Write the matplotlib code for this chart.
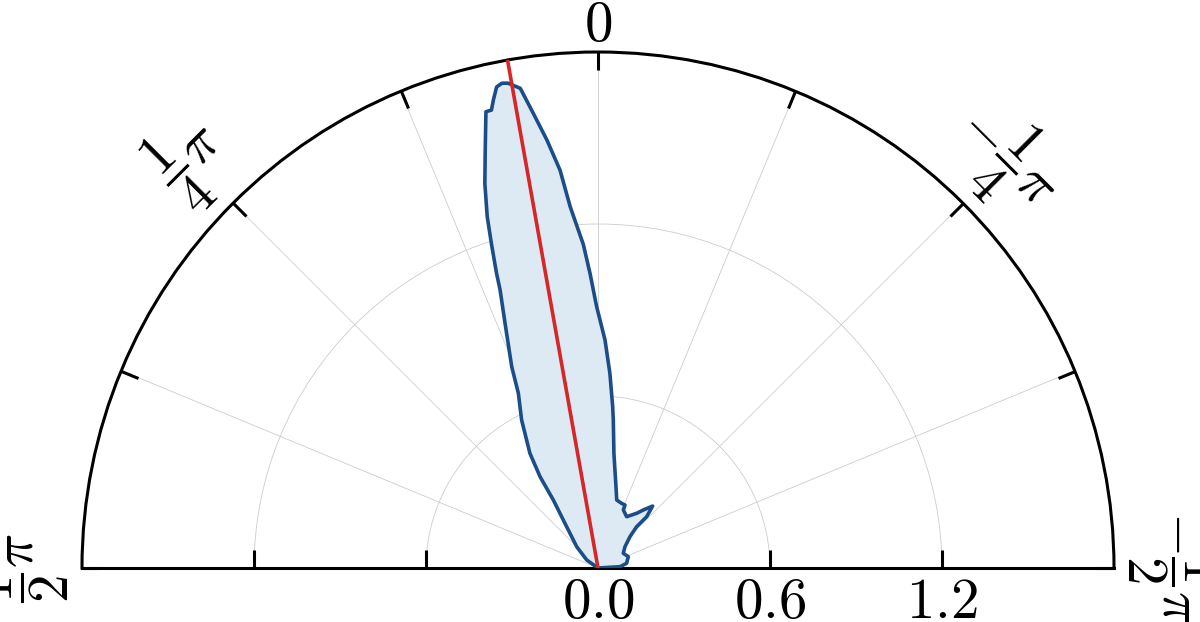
import matplotlib
matplotlib.use("Agg")
import matplotlib.pyplot as plt
import numpy as np

# Outline of the distribution (angle in degrees, radius)
theta_deg = [-90.0, -86.6, -80.7, -69.5, -59.8, -51.7, -45.6, -43.1, -43.5, -41.4,
             -38.0, -35.3, -29.2, -23.6, -23.2, -20.1, -15.4, -12.5, -9.8, -7.9,
             -5.9, -5.2, -3.5, -1.76, 0.3, 1.55, 2.6, 4.4, 5.45, 6.8,
             8.1, 9.2, 10.5, 11.2, 11.9, 12.6, 13.1, 13.8, 15.1, 16.4,
             17.5, 18.2, 19.0, 19.4, 20.8, 23.2, 24.5, 27.3, 30.7, 32.4,
             33.3, 37.2, 45.0, 54.7, 90.0]
radius = [0.0, 0.077, 0.101, 0.113, 0.102, 0.120, 0.156, 0.197, 0.247, 0.288,
          0.257, 0.234, 0.205, 0.221, 0.239, 0.240, 0.246, 0.290, 0.347, 0.404,
          0.519, 0.565, 0.680, 0.796, 0.912, 1.028, 1.130, 1.264, 1.394, 1.503,
          1.602, 1.695, 1.720, 1.724, 1.715, 1.673, 1.640, 1.639, 1.510, 1.398,
          1.285, 1.190, 1.087, 1.028, 0.913, 0.764, 0.670, 0.581, 0.465, 0.377,
          0.284, 0.181, 0.105, 0.048, 0.0]

mean_dir_deg = 10.1
r_max = 1.8

r_ticks = [0.0, 0.6, 1.2]
r_tick_labels = ["$0.0$", "$0.6$", "$1.2$"]
theta_tick_deg = [-90, -67.5, -45, -22.5, 0, 22.5, 45, 67.5, 90]
theta_tick_labels = [r"$-\dfrac{1}{2}\pi$", "", r"$-\dfrac{1}{4}\pi$", "", "$0$",
                     "", r"$\dfrac{1}{4}\pi$", "", r"$\dfrac{1}{2}\pi$"]

plt.rcParams["mathtext.fontset"] = "cm"

fig = plt.figure(figsize=(12, 6.22), dpi=100)
# square box; the half disc sits in its middle
ax = fig.add_axes([82 / 1200, -204 / 622, 1032 / 1200, 1032 / 622], projection="polar")
ax.set_theta_zero_location("N")
ax.set_thetamin(-90)
ax.set_thetamax(90)

theta = np.deg2rad(theta_deg)
ax.fill(theta, radius, color="#deeaf3", zorder=2)
ax.plot(theta, radius, color="#1b4d89", lw=2.6, zorder=3)
mu = np.deg2rad(mean_dir_deg)
ax.plot([mu, mu], [0, r_max], color="#d62728", lw=2.6, zorder=4)

ax.set_rlim(0, r_max)
ax.set_xticks(np.deg2rad(theta_tick_deg))
ax.set_xticklabels(theta_tick_labels)
ax.set_yticks(r_ticks)
ax.set_yticklabels(r_tick_labels)

ax.tick_params(axis="x", top=True, bottom=False, direction="in", length=13, width=2.2,
               pad=1, labelsize=41, labelrotation="auto")
ax.tick_params(axis="y", left=True, right=True, direction="in", length=13, width=2.2,
               pad=5, labelsize=41)
# labels sit with their lower edge against the rim ("0" has no denominator)
for lbl in ax.get_xticklabels():
    lbl.set_verticalalignment("baseline" if lbl.get_text() == "$0$" else "bottom")
ax.grid(color="#cccccc", lw=0.6)
for sp in ax.spines.values():
    sp.set_linewidth(2.2)

fig.savefig("out.png", dpi=100)
